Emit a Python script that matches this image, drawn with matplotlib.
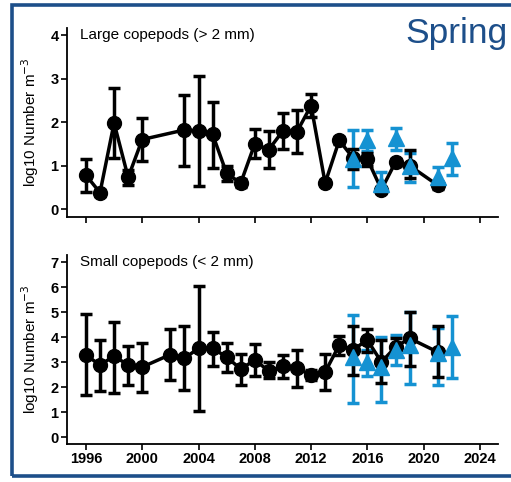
import matplotlib.pyplot as plt
from matplotlib.patches import Rectangle

plt.rcParams['font.family'] = ['Liberation Sans', 'DejaVu Sans']

BLACK = '#000000'
BLUE = '#1592d2'
NAVY = '#1d4f8a'

# large copepods (> 2 mm), survey series
large_years = [1996, 1997, 1998, 1999, 2000, 2003, 2004, 2005, 2006, 2007, 2008,
               2009, 2010, 2011, 2012, 2013, 2014, 2015, 2016, 2017, 2018, 2019, 2021]
large_vals = [0.78, 0.38, 1.98, 0.73, 1.60, 1.82, 1.80, 1.72, 0.82, 0.60, 1.50,
              1.37, 1.80, 1.78, 2.38, 0.60, 1.58, 1.17, 1.15, 0.45, 1.08, 1.00, 0.55]
large_lo = [0.40, 0.30, 1.17, 0.55, 1.10, 1.00, 0.53, 0.95, 0.65, 0.50, 1.17,
            0.95, 1.38, 1.28, 2.12, 0.55, 1.50, 0.92, 1.00, 0.38, 1.00, 0.72, 0.47]
large_hi = [1.15, 0.45, 2.78, 0.90, 2.10, 2.63, 3.05, 2.47, 1.00, 0.70, 1.83,
            1.80, 2.20, 2.28, 2.65, 0.68, 1.65, 1.38, 1.30, 0.52, 1.16, 1.35, 0.62]

# large copepods, second series
large_b_years = [2015, 2016, 2017, 2018, 2019, 2021, 2022]
large_b_vals = [1.15, 1.59, 0.58, 1.63, 1.00, 0.74, 1.17]
large_b_lo = [0.50, 1.33, 0.42, 1.37, 0.62, 0.50, 0.78]
large_b_hi = [1.82, 1.82, 0.85, 1.86, 1.30, 0.97, 1.53]

# small copepods (< 2 mm), survey series
small_years = [1996, 1997, 1998, 1999, 2000, 2002, 2003, 2004, 2005, 2006, 2007,
               2008, 2009, 2010, 2011, 2012, 2013, 2014, 2015, 2016, 2017, 2018, 2019, 2021]
small_vals = [3.28, 2.88, 3.24, 2.88, 2.80, 3.30, 3.15, 3.55, 3.55, 3.20, 2.72,
              3.08, 2.64, 2.84, 2.75, 2.48, 2.60, 3.68, 3.50, 3.88, 3.00, 3.60, 3.95, 3.40]
small_lo = [1.68, 1.85, 1.78, 2.08, 1.80, 2.30, 1.87, 1.05, 2.85, 2.62, 2.10,
            2.44, 2.35, 2.35, 2.00, 2.30, 1.88, 3.30, 2.48, 3.40, 2.15, 3.25, 2.85, 2.42]
small_hi = [4.92, 3.88, 4.62, 3.65, 3.78, 4.32, 4.45, 6.05, 4.22, 3.77, 3.32,
            3.72, 3.00, 3.30, 3.48, 2.70, 3.32, 4.05, 4.45, 4.32, 3.90, 3.95, 5.00, 4.45]

# small copepods, second series
small_b_years = [2015, 2016, 2017, 2018, 2019, 2021, 2022]
small_b_vals = [3.20, 3.00, 2.80, 3.50, 3.68, 3.35, 3.60]
small_b_lo = [1.35, 2.44, 1.40, 2.88, 2.14, 2.08, 2.36]
small_b_hi = [4.88, 3.48, 4.02, 4.10, 5.02, 4.35, 4.84]

xticks = [1996, 2000, 2004, 2008, 2012, 2016, 2020, 2024]


def errs(vals, lo, hi):
    return [[v - l for v, l in zip(vals, lo)], [h - v for v, h in zip(vals, hi)]]


def draw_panel(ax, yrs, vals, lo, hi, yrs_b, vals_b, lo_b, hi_b, label, ylim, yticks):
    # second series error bars underneath
    ax.errorbar(yrs_b, vals_b, yerr=errs(vals_b, lo_b, hi_b), fmt='none',
                ecolor=BLUE, elinewidth=2.5, capsize=4, capthick=2.5, zorder=2)
    ax.errorbar(yrs, vals, yerr=errs(vals, lo, hi), fmt='none',
                ecolor=BLACK, elinewidth=2.5, capsize=4, capthick=2.5, zorder=3)
    ax.plot(yrs, vals, color=BLACK, lw=2.5, marker='o', ms=10, zorder=4)
    ax.plot(yrs_b, vals_b, ls='none', marker='^', ms=11, color=BLUE, zorder=5)

    ax.set_xlim(1994.65, 2025.3)
    ax.set_ylim(*ylim)
    ax.set_xticks(xticks)
    ax.set_yticks(yticks)
    for s in ['top', 'right']:
        ax.spines[s].set_visible(False)
    for s in ['left', 'bottom']:
        ax.spines[s].set_linewidth(1.3)
    ax.tick_params(direction='out', length=4, width=1.2, labelsize=10.5, pad=2)
    for t in ax.get_xticklabels() + ax.get_yticklabels():
        t.set_fontweight('bold')
    ax.set_ylabel('log10 Number m$^{-3}$', fontsize=11, labelpad=7)
    ax.text(0.03, 0.962, label, transform=ax.transAxes, fontsize=11,
            va='center', ha='left')


fig = plt.figure(figsize=(5.11, 4.82), dpi=100)
ax1 = fig.add_axes([0.131, 0.5498, 0.844, 0.392])
ax2 = fig.add_axes([0.131, 0.0788, 0.844, 0.392])

draw_panel(ax1, large_years, large_vals, large_lo, large_hi,
           large_b_years, large_b_vals, large_b_lo, large_b_hi,
           'Large copepods (> 2 mm)', (-0.18, 4.16), [0, 1, 2, 3, 4])
ax1.tick_params(axis='x', labelbottom=False)

draw_panel(ax2, small_years, small_vals, small_lo, small_hi,
           small_b_years, small_b_vals, small_b_lo, small_b_hi,
           'Small copepods (< 2 mm)', (-0.28, 7.28), [0, 1, 2, 3, 4, 5, 6, 7])

# frame and season title
fig.patches.append(Rectangle((11.5 / 511, 1 - 476 / 482), 520 / 511, 471 / 482,
                             transform=fig.transFigure, fill=False,
                             edgecolor=NAVY, lw=2.6))
fig.text(405 / 511, 1 - 34 / 482, 'Spring', fontsize=25.5, color=NAVY,
         ha='left', va='center')

fig.savefig('out.png', dpi=100)
